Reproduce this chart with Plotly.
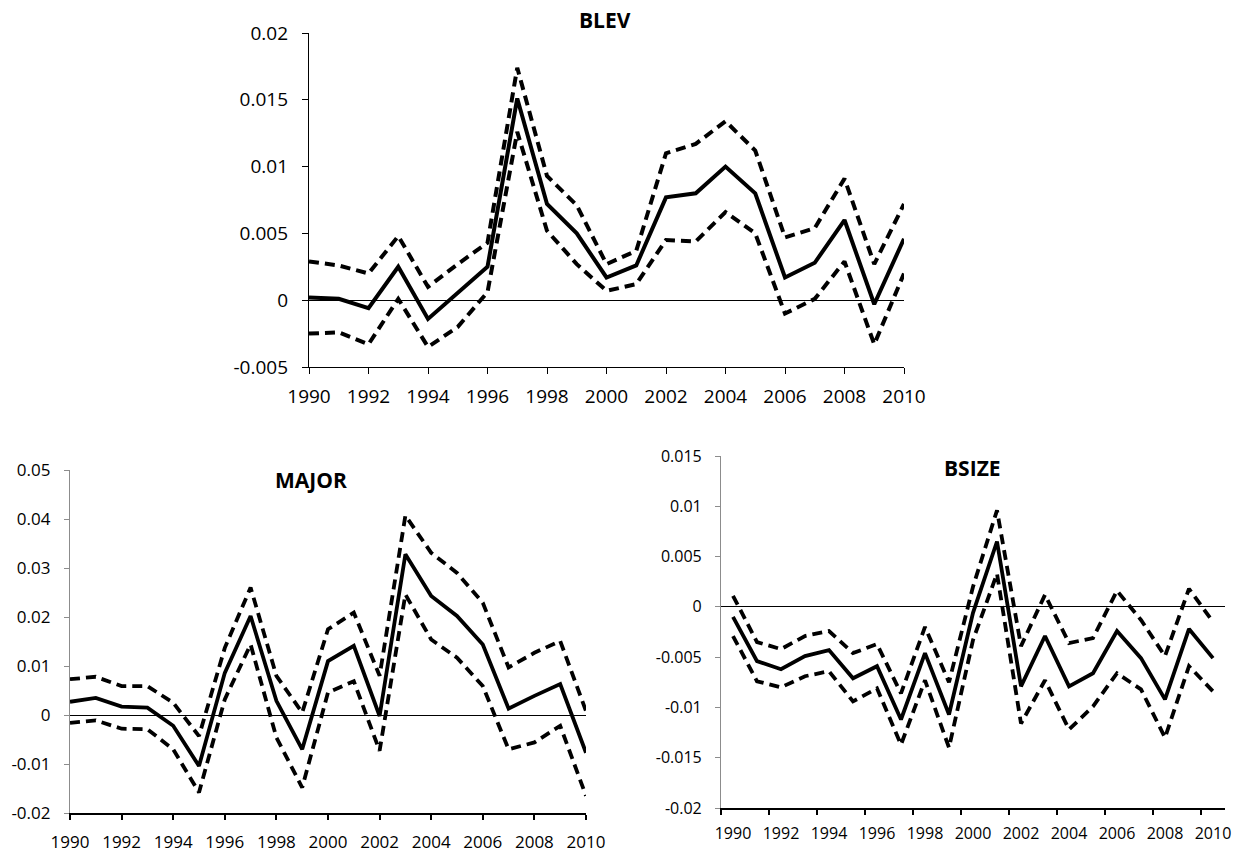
import plotly.graph_objects as go

# Years shared by all three panels
years = list(range(1990, 2011))

# BLEV: estimate with lower / upper bands
blev_mid = [0.0002, 0.0001, -0.0006, 0.0025, -0.0014, 0.0006, 0.0025, 0.0151, 0.0072, 0.0050,
            0.0017, 0.0026, 0.0077, 0.0080, 0.0100, 0.0080, 0.0017, 0.0028, 0.0060, -0.0003, 0.0046]
blev_up = [0.0029, 0.0026, 0.0020, 0.0048, 0.0010, 0.0027, 0.0043, 0.0174, 0.0093, 0.0071,
           0.0027, 0.0037, 0.0110, 0.0117, 0.0134, 0.0112, 0.0047, 0.0054, 0.0091, 0.0027, 0.0072]
blev_lo = [-0.0025, -0.0024, -0.0033, 0.0001, -0.0035, -0.0020, 0.0006, 0.0126, 0.0052, 0.0027,
           0.0007, 0.0012, 0.0045, 0.0044, 0.0066, 0.0050, -0.0010, 0.0001, 0.0029, -0.0033, 0.0020]

# MAJOR
major_mid = [0.0027, 0.0035, 0.0017, 0.0015, -0.0022, -0.0104, 0.0086, 0.0202, 0.0029, -0.0070,
             0.0110, 0.0141, -0.0002, 0.0328, 0.0243, 0.0202, 0.0144, 0.0013, 0.0039, 0.0063, -0.0077]
major_up = [0.0073, 0.0078, 0.0059, 0.0059, 0.0025, -0.0043, 0.0137, 0.0260, 0.0080, 0.0005,
            0.0175, 0.0209, 0.0080, 0.0407, 0.0331, 0.0290, 0.0229, 0.0097, 0.0127, 0.0151, 0.0008]
major_lo = [-0.0016, -0.0011, -0.0028, -0.0029, -0.0070, -0.0158, 0.0032, 0.0144, -0.0046, -0.0148,
            0.0046, 0.0069, -0.0073, 0.0246, 0.0154, 0.0117, 0.0059, -0.0070, -0.0056, -0.0022, -0.0165]

# BSIZE
bsize_mid = [-0.0010, -0.0054, -0.0062, -0.0049, -0.0043, -0.0071, -0.0059, -0.0112, -0.0046, -0.0107,
             -0.0006, 0.0065, -0.0079, -0.0029, -0.0079, -0.0066, -0.0024, -0.0051, -0.0092, -0.0022, -0.0051]
bsize_up = [0.0011, -0.0035, -0.0042, -0.0029, -0.0024, -0.0046, -0.0037, -0.0086, -0.0020, -0.0075,
            0.0020, 0.0096, -0.0039, 0.0012, -0.0036, -0.0031, 0.0016, -0.0013, -0.0049, 0.0018, -0.0015]
bsize_lo = [-0.0029, -0.0074, -0.0080, -0.0069, -0.0064, -0.0094, -0.0081, -0.0137, -0.0073, -0.0140,
            -0.0033, 0.0033, -0.0116, -0.0073, -0.0122, -0.0099, -0.0066, -0.0082, -0.0130, -0.0059, -0.0084]

# Tick labels
year_ticks = list(range(1990, 2011, 2))
year_labels = [str(y) for y in year_ticks]
blev_yticks = [-0.005, 0, 0.005, 0.01, 0.015, 0.02]
blev_ylabels = ["-0.005", "0", "0.005", "0.01", "0.015", "0.02"]
major_yticks = [-0.02, -0.01, 0, 0.01, 0.02, 0.03, 0.04, 0.05]
major_ylabels = ["-0.02", "-0.01", "0", "0.01", "0.02", "0.03", "0.04", "0.05"]
bsize_yticks = [-0.02, -0.015, -0.01, -0.005, 0, 0.005, 0.01, 0.015]
bsize_ylabels = ["-0.02", "-0.015", "-0.01", "-0.005", "0", "0.005", "0.01", "0.015"]

W, H = 1246, 854
FONT = "Open Sans"


def px_x(a, b):
    return [a / W, b / W]


def px_y(top, bottom):
    return [1 - bottom / H, 1 - top / H]


fig = go.Figure()


def add_band(mid, up, lo, xa, ya, width):
    for vals, dash in ((up, "10px,6px"), (lo, "10px,6px"), (mid, "solid")):
        fig.add_trace(go.Scatter(
            x=years, y=vals, mode="lines", xaxis=xa, yaxis=ya,
            line=dict(color="black", width=width, dash=dash),
            showlegend=False, hoverinfo="skip",
        ))


add_band(blev_mid, blev_up, blev_lo, "x", "y", 4)
add_band(major_mid, major_up, major_lo, "x2", "y2", 3.8)
add_band(bsize_mid, bsize_up, bsize_lo, "x3", "y3", 3.8)

common_y = dict(showgrid=False, zeroline=True, zerolinecolor="black", zerolinewidth=1.3,
                ticks="outside", tickangle=0, automargin=False)
common_x = dict(showgrid=False, zeroline=False, ticks="outside", tickangle=0,
                showline=True, linecolor="black", automargin=False)

fig.update_layout(
    template="none",
    width=W, height=H,
    margin=dict(l=0, r=0, t=0, b=0, pad=0),
    paper_bgcolor="white", plot_bgcolor="white",
    font=dict(family=FONT, color="black"),
    # BLEV
    xaxis=dict(domain=px_x(309, 904), range=[1990, 2010], tickmode="array",
               tickvals=year_ticks, ticktext=year_labels, ticklen=6, tickwidth=1.3,
               tickcolor="black", linewidth=1.3, tickfont=dict(size=19),
               ticklabelstandoff=6, anchor="y", **common_x),
    yaxis=dict(domain=px_y(33, 367), range=[-0.005, 0.02], tickmode="array",
               tickvals=blev_yticks, ticktext=blev_ylabels, ticklen=6, tickwidth=1.3,
               tickcolor="black", showline=True, linecolor="black", linewidth=1.3,
               tickfont=dict(size=19), ticklabelstandoff=10, anchor="x", **common_y),
    # MAJOR
    xaxis2=dict(domain=px_x(70, 586), range=[1990, 2010], tickmode="array",
                tickvals=year_ticks, ticktext=year_labels, ticklen=5, tickwidth=1.5,
                tickcolor="black", linewidth=2, tickfont=dict(size=17),
                ticklabelstandoff=8, anchor="y2", **common_x),
    yaxis2=dict(domain=px_y(470, 813), range=[-0.02, 0.05], tickmode="array",
                tickvals=major_yticks, ticktext=major_ylabels, ticklen=5, tickwidth=1,
                tickcolor="#8c8c8c", showline=True, linecolor="#8c8c8c", linewidth=1.2,
                tickfont=dict(size=17), ticklabelstandoff=10, anchor="x2", **common_y),
    # BSIZE (category-style axis: ticks between year pairs)
    xaxis3=dict(domain=px_x(721, 1225), range=[1989.5, 2010.5], tickmode="array",
                tickvals=year_ticks, ticktext=year_labels, ticklen=0,
                tickcolor="black", linewidth=2, tickfont=dict(size=16),
                ticklabelstandoff=10, anchor="y3",
                minor=dict(ticks="outside", tick0=1989.5, dtick=2, ticklen=5,
                           tickwidth=1.5, tickcolor="black", showgrid=False),
                **common_x),
    yaxis3=dict(domain=px_y(456, 808), range=[-0.02, 0.015], tickmode="array",
                tickvals=bsize_yticks, ticktext=bsize_ylabels, ticklen=5, tickwidth=1,
                tickcolor="#8c8c8c", showline=True, linecolor="#8c8c8c", linewidth=1.2,
                tickfont=dict(size=16), ticklabelstandoff=10, anchor="x3", **common_y),
)

titles = [("BLEV", 605, 20), ("MAJOR", 311, 480), ("BSIZE", 972, 468)]
for text, cx, cy in titles:
    fig.add_annotation(text=f"<b>{text}</b>", x=cx / W, y=1 - cy / H, xref="paper", yref="paper",
                       showarrow=False, xanchor="center", yanchor="middle",
                       font=dict(family=FONT, size=21, color="black"))

fig.write_html("out.html")
